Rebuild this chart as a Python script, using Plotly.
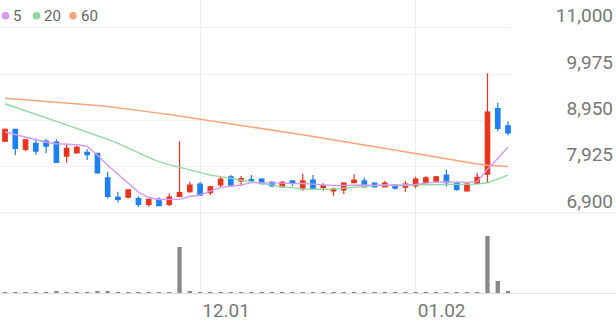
import plotly.graph_objects as go

# ---------------- data ----------------
dates = (
    ["2022-11-%02d" % d for d in [4, 7, 8, 9, 10, 11, 14, 15, 16, 17, 18, 21, 22, 23, 24, 25, 28, 29, 30]]
    + ["2022-12-%02d" % d for d in [1, 2, 5, 6, 7, 8, 9, 12, 13, 14, 15, 16, 19, 20, 21, 22, 23, 26, 27, 28, 29]]
    + ["2023-01-%02d" % d for d in [2, 3, 4, 5, 6, 9, 10, 11, 12, 13]]
)

open_ = [8490, 8750, 8310, 8440, 8490, 8470, 8160, 8230, 8240, 8220, 7680, 7250, 7250, 7220, 7090, 7200, 7090,
         7270, 7370, 7540, 7350, 7520, 7700, 7610, 7640, 7650, 7580, 7480, 7610, 7440, 7630, 7460, 7390, 7410,
         7570, 7610, 7560, 7480, 7520, 7470, 7500, 7580, 7600, 7740, 7560, 7390, 7560, 7760, 9210, 8830]
high = [8770, 8760, 8530, 8550, 8530, 8530, 8440, 8390, 8310, 8230, 7810, 7370, 7420, 7270, 7210, 7250, 7330,
        8490, 7590, 7590, 7500, 7700, 7740, 7720, 7740, 7670, 7610, 7610, 7620, 7770, 7740, 7560, 7460, 7580,
        7760, 7680, 7580, 7610, 7540, 7610, 7700, 7720, 7720, 7860, 7590, 7570, 7790, 9990, 9340, 8930]
low = [8470, 8180, 8270, 8190, 8220, 8010, 8020, 8220, 8070, 7770, 7220, 7130, 7220, 7030, 7040, 7060, 7050,
       7270, 7350, 7290, 7300, 7470, 7500, 7500, 7570, 7530, 7470, 7470, 7500, 7390, 7440, 7390, 7280, 7320,
       7560, 7470, 7470, 7470, 7420, 7370, 7440, 7560, 7590, 7480, 7390, 7370, 7540, 7570, 8710, 8620]
close = [8750, 8330, 8520, 8270, 8380, 8020, 8330, 8350, 8190, 7790, 7270, 7200, 7410, 7090, 7200, 7060, 7250,
         7350, 7520, 7290, 7480, 7650, 7500, 7660, 7610, 7550, 7500, 7580, 7560, 7610, 7440, 7500, 7430, 7560,
         7630, 7480, 7480, 7560, 7450, 7540, 7650, 7680, 7700, 7570, 7420, 7540, 7690, 9130, 8770, 8670]

ma5 = [8692, 8631, 8575, 8520, 8465, 8432, 8421, 8410, 8377, 8179, 7958, 7760, 7573, 7363, 7242, 7198, 7202,
       7202, 7264, 7297, 7385, 7462, 7496, 7518, 7573, 7573, 7566, 7562, 7551, 7555, 7540, 7518, 7507, 7511,
       7522, 7518, 7511, 7518, 7507, 7507, 7533, 7562, 7584, 7588, 7584, 7577, 7595, 7870, 8113, 8355]
ma20 = [9318, 9237, 9160, 9082, 9005, 8928, 8851, 8774, 8697, 8620, 8531, 8443, 8344, 8234, 8124, 8036, 7969,
        7908, 7844, 7782, 7738, 7705, 7667, 7621, 7577, 7550, 7517, 7484, 7456, 7434, 7425, 7423, 7429, 7451,
        7473, 7491, 7506, 7513, 7517, 7517, 7522, 7524, 7526, 7528, 7531, 7533, 7540, 7568, 7650, 7738]
ma60 = [9438, 9422, 9407, 9390, 9373, 9356, 9338, 9320, 9300, 9279, 9254, 9228, 9200, 9171, 9141, 9110, 9078,
        9045, 9012, 8979, 8945, 8910, 8876, 8842, 8807, 8773, 8739, 8702, 8666, 8629, 8593, 8556, 8520, 8483,
        8446, 8408, 8370, 8333, 8295, 8258, 8220, 8180, 8140, 8100, 8061, 8021, 7983, 7957, 7939, 7928]

volume = [40000, 30000, 35000, 30000, 35000, 60000, 30000, 35000, 30000, 55000, 60000, 35000, 30000, 30000,
          35000, 30000, 40000, 2300000, 90000, 40000, 35000, 30000, 35000, 30000, 35000, 30000, 30000, 35000,
          30000, 35000, 30000, 30000, 35000, 30000, 30000, 35000, 30000, 30000, 35000, 30000, 35000, 30000,
          35000, 40000, 30000, 35000, 40000, 2850000, 600000, 60000]

price_ticks = [6900, 7925, 8950, 9975, 11000]
date_ticks = ["2022-12-01", "2023-01-02"]
date_tick_text = ["12.01", "01.02"]
ma_names = ["5", "20", "60"]
ma_colors = ["#d49af0", "#8ed9a2", "#f7a47c"]

UP = "#e8341d"
DOWN = "#1c7ff2"
FONT = "Roboto"

# ---------------- figure ----------------
fig = go.Figure()

for name, vals, col, w in [("60", ma60, ma_colors[2], 1.5), ("20", ma20, ma_colors[1], 1.4), ("5", ma5, ma_colors[0], 1.4)]:
    fig.add_trace(go.Scatter(x=dates, y=vals, mode="lines", name=name,
                             line=dict(color=col, width=w), xaxis="x", yaxis="y",
                             hoverinfo="skip"))

fig.add_trace(go.Candlestick(
    x=dates, open=open_, high=high, low=low, close=close,
    increasing=dict(line=dict(color=UP, width=1.2), fillcolor=UP),
    decreasing=dict(line=dict(color=DOWN, width=1.2), fillcolor=DOWN),
    whiskerwidth=0, xaxis="x", yaxis="y", name="price"))

fig.add_trace(go.Bar(x=dates, y=volume, marker=dict(color="#888888", line=dict(width=0)),
                     width=0.42, xaxis="x2", yaxis="y2", name="volume"))

W, H = 616, 321
price_bottom = (H - 213) / H
vol_bottom = (H - 293) / H

fig.update_layout(
    width=W, height=H,
    margin=dict(l=0, r=0, t=0, b=0, autoexpand=False),
    paper_bgcolor="white", plot_bgcolor="white",
    showlegend=False,
    font=dict(family=FONT, color="#777777"),
    boxgap=0.38,
    xaxis=dict(domain=[0, 511 / W], type="category", categoryarray=dates,
               range=[-0.49, 49.29], rangeslider=dict(visible=False),
               tickvals=date_ticks, showticklabels=False, ticks="",
               showgrid=True, gridcolor="#eeeeee", gridwidth=1, automargin=False,
               zeroline=False, showline=False, anchor="y"),
    yaxis=dict(domain=[price_bottom, 1], range=[6900, 11613], anchor="free",
               position=613 / W, side="left", tickvals=price_ticks, tickformat=",d",
               ticks="", ticklabelshift=-12, ticklabelstandoff=0, automargin=False,
               tickfont=dict(family=FONT, size=19, color="#777777"),
               showgrid=True, gridcolor="#f1f1f1", gridwidth=1,
               zeroline=False, showline=False),
    xaxis2=dict(domain=[0, 1], type="category", categoryarray=dates,
                range=[-0.49, -0.49 + W / 10.265], anchor="y2",
                tickvals=date_ticks, ticktext=date_tick_text, ticks="",
                ticklabelshift=26, automargin=False,
                tickfont=dict(family=FONT, size=19, color="#777777"),
                showgrid=True, gridcolor="#eeeeee", gridwidth=1,
                showline=True, linecolor="#dddddd", linewidth=1, zeroline=False),
    yaxis2=dict(domain=[vol_bottom, price_bottom], range=[0, 4000000], anchor="x2",
                visible=False, showgrid=False, zeroline=False, automargin=False),
)

# separator between price and volume panels
fig.add_shape(type="line", xref="paper", yref="paper", x0=0, x1=1,
              y0=price_bottom, y1=price_bottom, line=dict(color="#e8e8e8", width=1))

# legend (moving-average markers)
legend_x = [5.5, 36.5, 73]
text_x = [11, 42, 79]
cy = 15.7
r = 3.8
for cx, tx, name, col in zip(legend_x, text_x, ma_names, ma_colors):
    fig.add_shape(type="circle", xref="paper", yref="paper",
                  x0=(cx - r) / W, x1=(cx + r) / W,
                  y0=(H - cy - r) / H, y1=(H - cy + r) / H,
                  fillcolor=col, line=dict(width=0))
    fig.add_annotation(x=tx / W, y=(H - cy) / H, xref="paper", yref="paper",
                       text=name, showarrow=False, xanchor="left", yanchor="middle",
                       font=dict(family=FONT, size=15, color="#666666"))

fig.write_html("out.html")
